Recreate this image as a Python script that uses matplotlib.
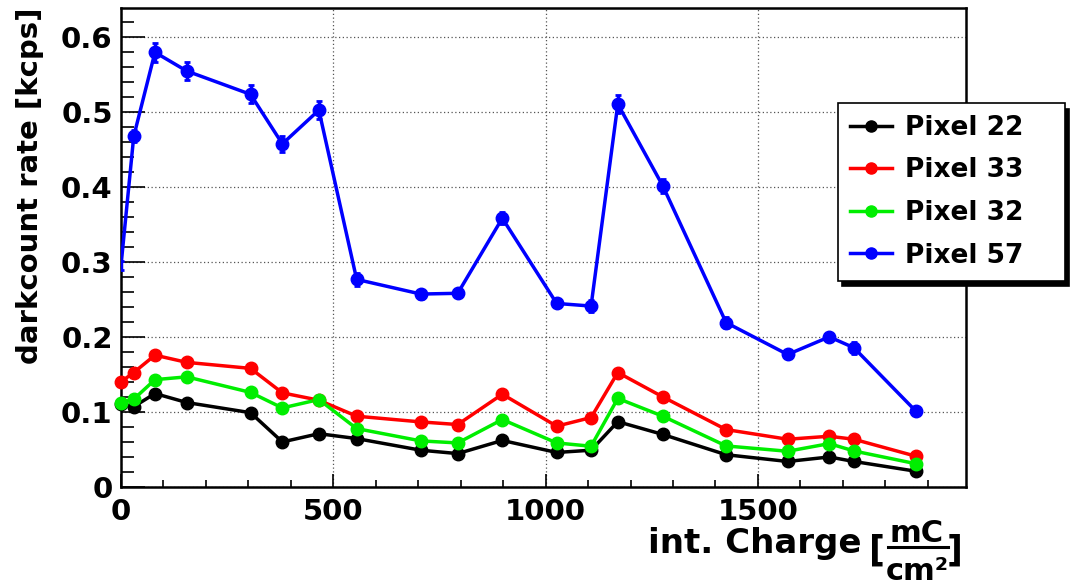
import numpy as np
import matplotlib
matplotlib.use("Agg")
import matplotlib.pyplot as plt
from matplotlib.lines import Line2D
from matplotlib.ticker import MultipleLocator

plt.rcParams['font.family'] = ['DejaVu Sans']
plt.rcParams['font.weight'] = 'bold'

# integrated charge [mC/cm^2]
charge = [0, 30, 80, 155, 305, 380, 466, 555, 706, 793,
          898, 1026, 1107, 1170, 1276, 1425, 1570, 1668, 1726, 1872]

# darkcount rates [kcps]
pixel_22 = [0.110, 0.107, 0.1245, 0.1125, 0.099, 0.060, 0.071, 0.0645, 0.049, 0.0445,
            0.062, 0.046, 0.049, 0.087, 0.070, 0.043, 0.034, 0.040, 0.034, 0.021]
pixel_33 = [0.140, 0.1525, 0.1756, 0.166, 0.158, 0.1254, 0.1156, 0.0943, 0.0867, 0.0832,
            0.1236, 0.081, 0.0925, 0.1525, 0.120, 0.0765, 0.0636, 0.0676, 0.0636, 0.041]
pixel_32 = [0.1125, 0.117, 0.143, 0.1467, 0.126, 0.1053, 0.1165, 0.0778, 0.0614, 0.0587,
            0.0899, 0.0587, 0.0543, 0.118, 0.0943, 0.0547, 0.0476, 0.0578, 0.048, 0.031]
pixel_57 = [0.295, 0.467, 0.579, 0.554, 0.523, 0.457, 0.502, 0.2765, 0.257, 0.258,
            0.358, 0.2445, 0.241, 0.510, 0.401, 0.219, 0.1765, 0.200, 0.1855, 0.101]

err_small = [0.003] * len(charge)
err_57 = [0.006, 0.008, 0.013, 0.012, 0.012, 0.011, 0.012, 0.009, 0.006, 0.005,
          0.008, 0.005, 0.008, 0.012, 0.009, 0.007, 0.005, 0.005, 0.008, 0.004]

series = [
    ("Pixel 22", pixel_22, err_small, "black", 0),
    ("Pixel 33", pixel_33, err_small, "#ff0000", 0),
    ("Pixel 32", pixel_32, err_small, "#00ee00", 0),
    ("Pixel 57", pixel_57, err_57, "#0000ff", 1),
]

W, H = 1073, 585
fig = plt.figure(figsize=(W / 100, H / 100), dpi=100)
ax = fig.add_axes([121 / W, 1 - 487 / H, 845 / W, 479 / H])

for name, vals, err, col, first in series:
    ax.errorbar(charge, vals, yerr=err, fmt='none', ecolor=col, elinewidth=2.5,
                capsize=2.5, capthick=2, zorder=3)
    ax.plot(charge, vals, '-', color=col, lw=2.5, zorder=3)
    ax.plot(charge[first:], vals[first:], 'o', color=col, ms=9, clip_on=False, zorder=4)

ax.set_xlim(0, 1990)
ax.set_ylim(0, 0.638)

ax.xaxis.set_major_locator(MultipleLocator(500))
ax.xaxis.set_minor_locator(MultipleLocator(100))
ax.yaxis.set_major_locator(MultipleLocator(0.1))
ax.yaxis.set_minor_locator(MultipleLocator(0.02))
ax.yaxis.set_major_formatter(plt.FuncFormatter(lambda v, p: '0' if v == 0 else f'{v:.1f}'))

ax.tick_params(which='both', direction='in', top=False, right=False, labelsize=21, width=1.2)
ax.tick_params(axis='y', which='major', length=17, pad=6)
ax.tick_params(axis='y', which='minor', length=9.5)
ax.tick_params(axis='x', which='major', length=9.5, pad=8)
ax.tick_params(axis='x', which='minor', length=5)

ax.grid(True, which='major', color='#555555', linestyle=(0, (1, 2)), linewidth=0.9)
ax.set_axisbelow(True)
for s in ax.spines.values():
    s.set_linewidth(1.8)

ax.set_ylabel('darkcount rate [kcps]', fontsize=21, fontweight='bold', loc='top', labelpad=12)

# x axis title with a stacked unit fraction, placed like the ROOT title
def fp(x, y):
    return x / W, 1 - y / H

fig.text(*fp(861, 553), 'int. Charge', ha='right', va='baseline', fontsize=24.5, fontweight='bold')
fig.text(*fp(877, 551), '[', ha='center', va='center', fontsize=25, fontweight='bold')
fig.text(*fp(917, 542), 'mC', ha='center', va='baseline', fontsize=22, fontweight='bold')
fig.text(*fp(917, 580), 'cm²', ha='center', va='baseline', fontsize=22, fontweight='bold')
fig.text(*fp(955, 551), ']', ha='center', va='center', fontsize=25, fontweight='bold')
fig.add_artist(Line2D([888 / W, 948 / W], [1 - 547 / H, 1 - 547 / H],
                      transform=fig.transFigure, color='black', lw=2.2))

handles = [Line2D([], [], color=c, lw=2.5, marker='o', ms=8) for _, _, _, c, _ in series]
labels = [s[0] for s in series]
leg = ax.legend(handles, labels, loc='upper left', mode='expand',
                bbox_to_anchor=(0.8485, 0.0, 0.2686, 0.8017), fontsize=19,
                frameon=True, fancybox=False, edgecolor='black', framealpha=1,
                shadow={'color': 'black', 'alpha': 1, 'ox': 3, 'oy': -4}, handlelength=1.6,
                borderpad=0.45, labelspacing=0.63, handletextpad=0.5, borderaxespad=0)
leg.get_frame().set_linewidth(1.2)
leg.set_clip_on(False)

fig.savefig('out.png', dpi=100)
